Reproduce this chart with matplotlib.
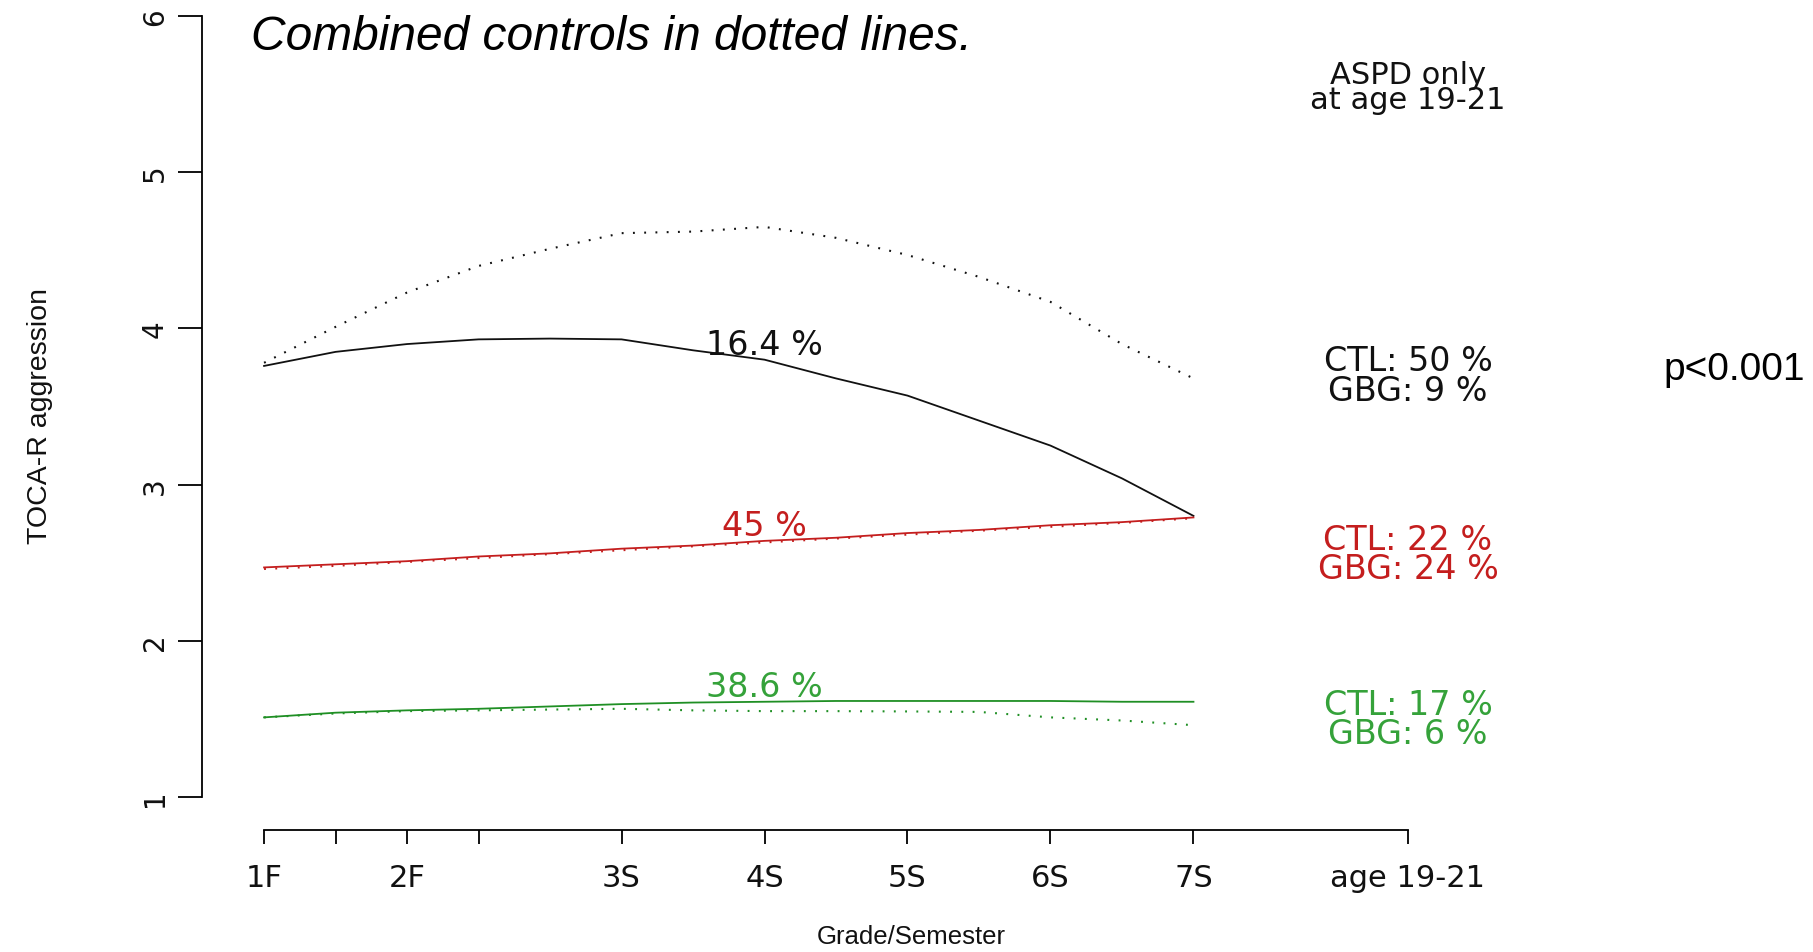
import numpy as np
import matplotlib
matplotlib.use("Agg")
from matplotlib import pyplot as plt

# grade/semester positions (1F = 1, one unit per school year)
sem_x = [1.0, 1.5, 2.0, 2.5, 3.0, 3.5, 4.0, 4.5, 5.0, 5.5, 6.0, 6.5, 7.0, 7.5]

# TOCA-R aggression trajectories: GBG classes (solid) and combined controls (dotted)
high_gbg = [3.76, 3.85, 3.90, 3.93, 3.935, 3.93, 3.86, 3.80, 3.68, 3.57, 3.41, 3.25, 3.04, 2.80]
high_ctl = [3.78, 4.01, 4.23, 4.40, 4.51, 4.61, 4.62, 4.65, 4.58, 4.47, 4.33, 4.17, 3.90, 3.68]
mid_gbg = [2.47, 2.49, 2.51, 2.54, 2.56, 2.59, 2.61, 2.64, 2.66, 2.69, 2.71, 2.74, 2.76, 2.79]
mid_ctl = [2.46, 2.48, 2.505, 2.53, 2.555, 2.58, 2.605, 2.63, 2.655, 2.68, 2.705, 2.73, 2.755, 2.785]
low_gbg = [1.51, 1.54, 1.555, 1.565, 1.58, 1.595, 1.605, 1.61, 1.615, 1.615, 1.615, 1.615, 1.61, 1.61]
low_ctl = [1.51, 1.535, 1.55, 1.555, 1.56, 1.565, 1.555, 1.55, 1.55, 1.548, 1.545, 1.51, 1.49, 1.46]

x_ticks = [1, 1.5, 2, 2.5, 3.5, 4.5, 5.5, 6.5, 7.5, 9]
x_labels = ['1F', '', '2F', '', '3S', '4S', '5S', '6S', '7S', 'age 19-21']
y_ticks = [1, 2, 3, 4, 5, 6]

# share of each trajectory class, and ASPD rates at age 19-21
class_pct = ['16.4 %', '45 %', '38.6 %']
ctl_aspd = [50, 22, 17]
gbg_aspd = [9, 24, 6]

black = '#111111'
red = '#C41E1E'
green = '#1F8F24'
green_txt = '#35A23A'

W, H = 1813, 953
fig = plt.figure(figsize=(W / 100, H / 100), dpi=100)
ax = fig.add_axes([202 / W, 122 / H, 1268 / W, 821 / H])

dots = (0, (0.9, 4.5))
for solid, dotted, col in [(high_gbg, high_ctl, black), (mid_gbg, mid_ctl, red), (low_gbg, low_ctl, green)]:
    ax.plot(sem_x, dotted, color=col, lw=1.5, linestyle=dots)
    ax.plot(sem_x, solid, color=col, lw=1.3)

ax.set_xlim(0.566, 9.434)
ax.set_ylim(0.789, 6.045)

for s in ['top', 'right']:
    ax.spines[s].set_visible(False)
ax.spines['left'].set_bounds(1, 6)
ax.spines['bottom'].set_bounds(1, 9)
for s in ['left', 'bottom']:
    ax.spines[s].set_linewidth(1.3)

ax.set_xticks(x_ticks)
ax.set_xticklabels(x_labels, fontsize=22, family='DejaVu Sans', color='#111111')
ax.set_yticks(y_ticks)
ax.set_yticklabels([str(v) for v in y_ticks], rotation=90, va='center',
                   fontsize=20, family='DejaVu Sans', color='#111111')
ax.tick_params(axis='x', length=10, width=1.3, pad=14)
ax.tick_params(axis='y', length=17, width=1.3, pad=7)

fig.text(911 / W, 1 - 937 / H, 'Grade/Semester', ha='center', va='center',
         fontsize=18.5, family='Liberation Sans', color='#111111')
fig.text(40 / W, 1 - 416 / H, 'TOCA-R aggression', ha='center', va='center',
         rotation=90, fontsize=20.5, family='Liberation Sans', color='#111111')

# class shares written just above each solid curve at 4S
txt_cols = [black, red, green_txt]
for line, pct, col in zip([high_gbg, mid_gbg, low_gbg], class_pct, txt_cols):
    yv = line[sem_x.index(4.5)]
    ax.text(4.5, yv + 0.1, pct, ha='center', va='center', fontsize=24,
            family='DejaVu Sans', color=col)

ax.text(9, 5.545, 'ASPD only\nat age 19-21', ha='center', va='center', fontsize=22,
        family='DejaVu Sans', color=black, linespacing=0.86)
for yv, c, g, col in zip([3.70, 2.556, 1.50], ctl_aspd, gbg_aspd, txt_cols):
    ax.text(9, yv, f'CTL: {c} %\nGBG: {g} %', ha='center', va='center', fontsize=24,
            family='DejaVu Sans', color=col, linespacing=0.87)

fig.text(1734 / W, 1 - 370 / H, 'p<0.001', ha='center', va='center',
         fontsize=28, family='Liberation Sans', color='black')
fig.text(251 / W, 1 - 38 / H, 'Combined controls in dotted lines.', ha='left', va='center',
         fontsize=34.5, family='Liberation Sans', style='italic', color='black')

fig.savefig('out.png', dpi=100)
